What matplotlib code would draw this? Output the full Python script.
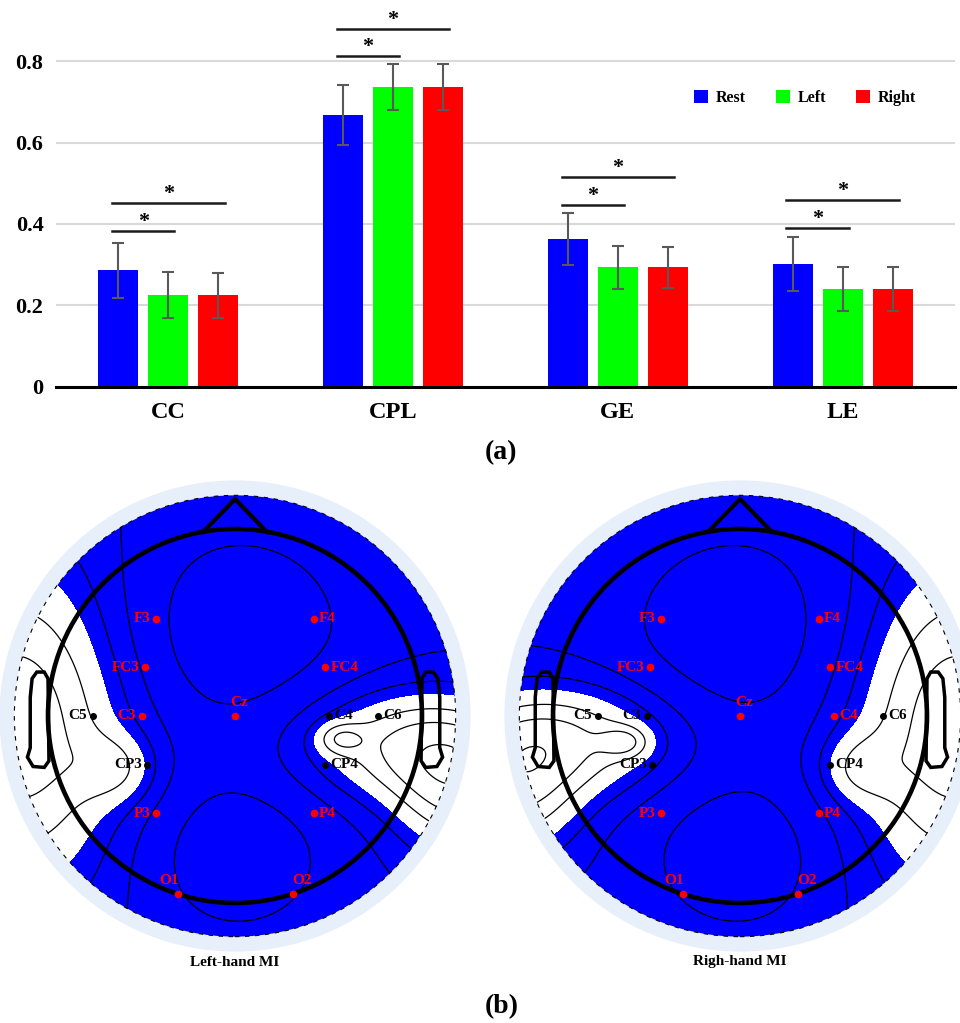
import numpy as np
import matplotlib.pyplot as plt
from matplotlib.patches import Circle, Polygon

plt.rcParams['font.family'] = ['Liberation Serif', 'DejaVu Serif']
plt.rcParams['font.weight'] = 'bold'

# ---- (a) bar chart data ----
metrics = ["CC", "CPL", "GE", "LE"]
conditions = ["Rest", "Left", "Right"]
colors = ["#0000ff", "#00ff00", "#ff0000"]
rest_mean = [0.286, 0.667, 0.362, 0.302]
left_mean = [0.225, 0.737, 0.293, 0.239]
right_mean = [0.225, 0.737, 0.293, 0.239]
rest_err = [0.067, 0.074, 0.064, 0.067]
left_err = [0.056, 0.056, 0.052, 0.054]
right_err = [0.055, 0.056, 0.051, 0.054]
# significance bars: (Rest vs Left height, Rest vs Right height)
sig_short = [0.383, 0.813, 0.447, 0.390]
sig_long = [0.451, 0.880, 0.515, 0.459]

# ---- (b) topographic map data (head radius = 1) ----
electrodes = ["F3", "F4", "FC3", "FC4", "C3", "Cz", "C4", "C5", "C6",
              "CP3", "CP4", "P3", "P4", "O1", "O2"]
elec_x = [-0.42, 0.42, -0.48, 0.48, -0.50, 0.0, 0.50, -0.76, 0.765,
          -0.47, 0.48, -0.42, 0.42, -0.305, 0.31]
elec_y = [0.52, 0.52, 0.26, 0.26, 0.0, 0.0, 0.0, 0.0, 0.0,
          -0.26, -0.26, -0.52, -0.52, -0.95, -0.95]
sig_left_mi = ["F3", "F4", "FC3", "FC4", "C3", "Cz", "P3", "P4", "O1", "O2"]
sig_right_mi = ["F3", "F4", "FC3", "FC4", "C4", "Cz", "P3", "P4", "O1", "O2"]
# estimated activation sources (x, y, amplitude, spread_x, spread_y)
sources_left_mi = [(-1.15, -0.05, 1.2, 0.42, 0.65),
                   (-0.62, -0.28, 0.45, 0.15, 0.13),
                   (0.95, -0.15, 1.0, 0.45, 0.22),
                   (1.20, -0.45, 0.8, 0.25, 0.25),
                   (0.56, -0.12, 0.5, 0.09, 0.06),
                   (0.0, 0.45, -0.6, 0.45, 0.40),
                   (0.0, -0.75, -0.6, 0.35, 0.30)]
sources_right_mi = [(1.15, -0.05, 1.2, 0.42, 0.65),
                    (0.62, -0.28, 0.45, 0.15, 0.13),
                    (-0.95, -0.12, 1.0, 0.45, 0.22),
                    (-1.20, -0.45, 0.8, 0.25, 0.25),
                    (-0.61, -0.14, 0.5, 0.09, 0.06),
                    (0.0, 0.45, -0.6, 0.45, 0.40),
                    (0.0, -0.75, -0.6, 0.35, 0.30)]

W, H = 960, 1023
fig = plt.figure(figsize=(W / 100, H / 100), dpi=100)


def px_axes(left, top, width, height):
    return fig.add_axes([left / W, 1 - (top + height) / H, width / W, height / H])


# ---------------- bar chart ----------------
ax = px_axes(56, 8.2, 899, 378.5)
x = np.arange(len(metrics))
step = 0.222
width = 0.178
means = [rest_mean, left_mean, right_mean]
errs = [rest_err, left_err, right_err]
for i in range(3):
    ax.bar(x + (i - 1) * step, means[i], width, color=colors[i], label=conditions[i], zorder=2)
    ax.errorbar(x + (i - 1) * step, means[i], yerr=errs[i], fmt="none", ecolor="#595959",
                elinewidth=1.5, capsize=4.5, capthick=1.5, zorder=3)

for i in range(len(metrics)):
    for y, x1 in [(sig_short[i], x[i] + 0.027), (sig_long[i], x[i] + 0.25)]:
        x0 = x[i] - 0.25
        ax.plot([x0, x1], [y, y], color="#1a1a1a", lw=1.8, zorder=3)
        ax.text((x0 + x1) / 2, y + 0.022, "*", ha="center", va="center", fontsize=16)

ax.set_xlim(-0.5, 3.5)
ax.set_ylim(0, 0.93)
ax.set_yticks([0, 0.2, 0.4, 0.6, 0.8])
ax.set_yticklabels(["0", "0.2", "0.4", "0.6", "0.8"])
ax.set_xticks(x)
ax.set_xticklabels(metrics)
ax.tick_params(axis="y", length=0, pad=9, labelsize=16)
ax.tick_params(axis="x", length=0, pad=11, labelsize=17.5)
for sp in ["top", "right", "left"]:
    ax.spines[sp].set_visible(False)
ax.spines["bottom"].set_linewidth(2.2)
ax.yaxis.grid(True, color="#d9d9d9", lw=1.5, zorder=0)
ax.set_axisbelow(True)
ax.legend(loc="center", bbox_to_anchor=(0.833, 0.763), ncol=3, frameon=False,
          fontsize=11.5, handlelength=0.9, handleheight=0.9, handletextpad=0.45,
          columnspacing=1.9)

fig.text(501 / W, 1 - 453 / H, "(a)", ha="center", va="center", fontsize=20)

# ---------------- topographic maps ----------------
S = 187.0
grid = np.linspace(-1.2, 1.2, 400)
gx, gy = np.meshgrid(grid, grid)


def field(src):
    f = np.zeros_like(gx)
    for (x0, y0, a, sx, sy) in src:
        f += a * np.exp(-((gx - x0) ** 2 / (2 * sx ** 2) + (gy - y0) ** 2 / (2 * sy ** 2)))
    return f


def head(cx, cy, src, sig, title):
    hax = px_axes(cx - 1.3 * S, cy - 1.3 * S, 2.6 * S, 2.6 * S)
    hax.set_xlim(-1.3, 1.3)
    hax.set_ylim(-1.3, 1.3)
    hax.set_aspect("equal")
    hax.axis("off")
    hax.add_patch(Circle((0, 0), 1.26, facecolor="#e7effb", edgecolor="none", zorder=0))
    disk = Circle((0, 0), 1.18, facecolor="white", edgecolor="none", zorder=1)
    hax.add_patch(disk)
    f = field(src)
    cf = hax.contourf(gx, gy, f, levels=[-10, 0.5, 10], colors=["#0000ff", "white"], zorder=2)
    cf.set_clip_path(disk)
    cl = hax.contour(gx, gy, f, levels=[-0.3, 0.05, 0.3, 0.75, 1.0, 1.3],
                     colors="k", linewidths=0.9, linestyles="solid", zorder=3)
    cl.set_clip_path(disk)
    hax.add_patch(Circle((0, 0), 1.18, facecolor="none", edgecolor="k", lw=0.8,
                         linestyle=(0, (4, 5)), zorder=3))
    # head outline, nose, ears
    hax.add_patch(Circle((0, 0), 1.0, facecolor="none", edgecolor="k", lw=3.3, zorder=4))
    hax.plot([-0.17, 0, 0.17], [0.985, 1.16, 0.985], color="k", lw=3, zorder=4,
             solid_joinstyle="miter")
    ear = np.array([(-1.0, 0.20), (-1.02, 0.235), (-1.06, 0.235), (-1.085, 0.20),
                    (-1.095, 0.10), (-1.095, -0.17), (-1.11, -0.22), (-1.08, -0.27),
                    (-1.02, -0.275), (-0.995, -0.24)])
    for sgn in [1, -1]:
        pts = ear.copy()
        pts[:, 0] *= sgn
        hax.add_patch(Polygon(pts, closed=True, facecolor="none", edgecolor="k", lw=2.5, zorder=4))
    # electrodes
    for name, ex, ey in zip(electrodes, elec_x, elec_y):
        c = "#ff0000" if name in sig else "k"
        hax.plot(ex, ey, "o", color=c, ms=4.5 if c != "k" else 4, zorder=5)
        if name == "Cz":
            hax.text(ex + 0.02, ey + 0.07, name, color=c, ha="center", va="center", fontsize=11, zorder=5)
        elif name in ("O1", "O2"):
            off = -0.05 if ex < 0 else 0.05
            hax.text(ex + off, ey + 0.07, name, color=c, ha="center", va="center", fontsize=11, zorder=5)
        elif ex < 0:
            hax.text(ex - 0.03, ey, name, color=c, ha="right", va="center", fontsize=11, zorder=5)
        else:
            hax.text(ex + 0.03, ey, name, color=c, ha="left", va="center", fontsize=11, zorder=5)
    fig.text(cx / W, 1 - 962 / H, title, ha="center", va="center", fontsize=11)


head(235, 716, sources_left_mi, sig_left_mi, "Left-hand MI")
head(740, 716, sources_right_mi, sig_right_mi, "Righ-hand MI")

fig.text(502 / W, 1 - 1007 / H, "(b)", ha="center", va="center", fontsize=20)

fig.savefig("out.png", dpi=100)
